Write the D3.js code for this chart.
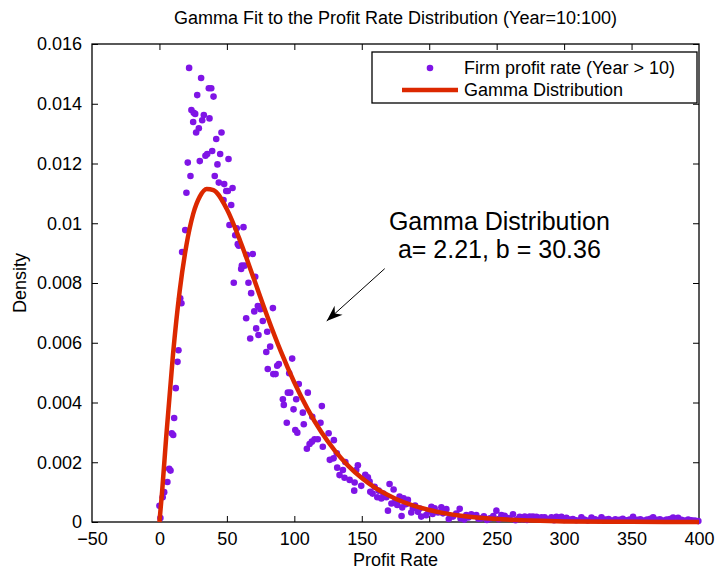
<!DOCTYPE html>
<html>
<head>
<meta charset="utf-8">
<script src="https://cdn.jsdelivr.net/npm/d3@7/dist/d3.min.js"></script>
<style>
  body { margin: 0; background: #fff; }
  svg { display: block; font-family: "Liberation Sans", Arial, sans-serif; }
</style>
</head>
<body>
<svg id="chart" width="716" height="569"></svg>
<script>
// firm profit rate histogram (density)
var profitRate = [
  0.0, 0.7, 2.4, 3.5, 5.9, 7.2, 8.2, 9.1, 10.2, 10.9, 12.1, 13.4, 14.1, 15.4, 16.3, 16.8,
  19.1, 20.0, 21.0, 22.0, 23.0, 23.7, 25.0, 25.4, 26.5, 27.2, 28.0, 29.2, 29.9, 30.9, 31.7,
  32.9, 34.1, 35.4, 36.6, 37.1, 38.4, 39.1, 40.1, 41.0, 42.1, 43.0, 44.0, 45.0, 46.0, 47.5,
  48.0, 49.5, 50.7, 51.2, 51.9, 53.2, 54.2, 55.1, 56.2, 57.3, 58.1, 58.8, 60.6, 61.1, 62.3,
  63.1, 64.3, 64.8, 66.0, 67.3, 68.0, 69.2, 70.3, 71.0, 71.7, 72.9, 73.4, 73.9, 74.9, 76.6,
  79.2, 79.9, 80.3, 82.1, 84.1, 84.4, 86.1, 87.3, 88.5, 91.5, 92.2, 94.4, 95.2, 96.2, 97.0,
  98.4, 99.4, 100.7, 101.4, 102.2, 103.3, 106.3, 107.0, 109.3, 110.0, 111.3, 113.0, 113.3,
  115.0, 117.4, 119.4, 120.4, 121.1, 125.4, 126.3, 129.1, 129.3, 131.5, 131.8, 133.5, 136.0,
  137.2, 137.8, 141.0, 144.4, 144.7, 145.9, 147.1, 149.6, 152.6, 154.5, 155.8, 156.3, 158.0,
  159.5, 161.5, 162.5, 164.5, 166.0, 168.2, 169.4, 170.6, 172.0, 173.6, 175.0, 176.3, 178.0,
  179.3, 179.5, 180.0, 181.0, 183.0, 184.2, 186.7, 187.9, 189.5, 191.6, 193.0, 194.1, 197.8,
  199.5, 201.6, 202.5, 204.0, 206.5, 209.0, 210.2, 212.7, 214.5, 217.6, 220.0, 222.6, 223.2,
  226.0, 227.5, 229.0, 231.2, 234.9, 236.5, 238.6, 240.5, 242.8, 245.0, 247.5, 249.8, 251.5,
  253.5, 255.9, 257.5, 259.6, 262.1, 264.0, 265.8, 267.1, 269.0, 270.8, 272.5, 274.5, 276.9,
  279.5, 281.0, 283.2, 285.6, 288.0, 290.6, 292.5, 294.3, 296.0, 298.0, 300.0, 301.7, 304.0,
  306.5, 309.0, 312.8, 315.0, 317.5, 320.3, 323.0, 325.5, 327.7, 330.5, 333.0, 335.5, 338.0,
  341.0, 343.5, 346.0, 348.5, 351.1, 354.0, 356.5, 359.0, 361.5, 364.0, 366.0, 368.5, 371.0,
  373.5, 376.0, 378.5, 380.8, 384.5, 387.0, 389.5, 392.0, 394.5, 397.0, 399.5
];
var density = [
  0.00054, 0.00013, 0.00083, 0.00100, 0.00134, 0.00178, 0.00172, 0.00297, 0.00291, 0.00348,
  0.00448, 0.00536, 0.00575, 0.00749, 0.00732, 0.00904, 0.00977, 0.01102, 0.01203, 0.01520,
  0.01158, 0.01379, 0.01339, 0.01370, 0.01366, 0.01304, 0.01429, 0.01318, 0.01208, 0.01486,
  0.01345, 0.01362, 0.01226, 0.01232, 0.01452, 0.01351, 0.01452, 0.01242, 0.01424, 0.01158,
  0.01282, 0.01197, 0.01136, 0.01232, 0.01304, 0.01078, 0.01131, 0.01108, 0.01108, 0.01215,
  0.00994, 0.01061, 0.01118, 0.00801, 0.00960, 0.00983, 0.00930, 0.00925, 0.00847, 0.00858,
  0.00987, 0.00858, 0.00682, 0.00894, 0.00801, 0.00614, 0.00766, 0.00897, 0.00705, 0.00821,
  0.00648, 0.00723, 0.00626, 0.00721, 0.00712, 0.00673, 0.00569, 0.00637, 0.00512, 0.00587,
  0.00716, 0.00495, 0.00495, 0.00523, 0.00529, 0.00411, 0.00392, 0.00332, 0.00433, 0.00498,
  0.00433, 0.00547, 0.00377, 0.00308, 0.00411, 0.00299, 0.00462, 0.00366, 0.00327, 0.00245,
  0.00433, 0.00261, 0.00269, 0.00352, 0.00277, 0.00277, 0.00332, 0.00388, 0.00252, 0.00297,
  0.00208, 0.00213, 0.00274, 0.00230, 0.00182, 0.00157, 0.00174, 0.00148, 0.00201, 0.00141,
  0.00105, 0.00132, 0.00174, 0.00190, 0.00121, 0.00158, 0.00150, 0.00135, 0.00101, 0.00095,
  0.00118, 0.00083, 0.00105, 0.00079, 0.00095, 0.00083, 0.00038, 0.00127, 0.00062, 0.00109,
  0.00072, 0.00057, 0.00085, 0.00074, 0.00020, 0.00049, 0.00079, 0.00060, 0.00074, 0.00032,
  0.00046, 0.00055, 0.00034, 0.00045, 0.00018, 0.00023, 0.00037, 0.00051, 0.00027, 0.00046,
  0.00032, 0.00049, 0.00029, 0.00043, 0.00010, 0.00018, 0.00028, 0.00044, 0.00012, 0.00008,
  0.00023, 0.00015, 0.00026, 0.00023, 0.00011, 0.00012, 0.00019, 0.00007, 0.00012, 0.00020,
  0.00038, 0.00009, 0.00023, 0.00021, 0.00014, 0.00012, 0.00026, 0.00006, 0.00010, 0.00017,
  0.00009, 0.00018, 0.00007, 0.00018, 0.00018, 0.00017, 0.00008, 0.00016, 0.00016, 0.00009,
  0.00016, 0.00006, 0.00017, 0.00010, 0.00017, 0.00007, 0.00014, 0.00008, 0.00010, 0.00006,
  0.00016, 0.00008, 0.00005, 0.00015, 0.00009, 0.00006, 0.00016, 0.00008, 0.00010, 0.00005,
  0.00009, 0.00007, 0.00011, 0.00006, 0.00008, 0.00017, 0.00007, 0.00009, 0.00005, 0.00008,
  0.00011, 0.00016, 0.00007, 0.00009, 0.00005, 0.00008, 0.00010, 0.00015, 0.00014, 0.00007,
  0.00005, 0.00008, 0.00006, 0.00005, 0.00003
];

// fitted gamma curve (a = 2.21, b = 30.36)
var gammaX = [0, 2, 5, 10, 15, 20, 25, 30, 35, 40, 50, 60, 70, 80, 90, 100, 110, 120, 130,
  140, 150, 160, 175, 200, 225, 250, 275, 300, 350, 400];
var gammaY = [0, 0.00103, 0.00284, 0.00558, 0.00773, 0.00927, 0.01031, 0.0109, 0.01115,
  0.01111, 0.01047, 0.00939, 0.00814, 0.00688, 0.00571, 0.00467, 0.00377, 0.00301, 0.00239,
  0.00188, 0.00147, 0.00114, 0.00078, 0.00040, 0.00020, 0.00010, 0.00005, 0.00002,
  0.000005, 0.000001];

var xTicks = [-50, 0, 50, 100, 150, 200, 250, 300, 350, 400];
var yTicks = [0, 0.002, 0.004, 0.006, 0.008, 0.01, 0.012, 0.014, 0.016];
var yTickLabels = ["0", "0.002", "0.004", "0.006", "0.008", "0.01", "0.012", "0.014", "0.016"];
var legendLabels = ["Firm profit rate (Year > 10)", "Gamma Distribution"];
var noteLines = ["Gamma Distribution", "a= 2.21, b = 30.36"];

var margin = {top: 44, right: 17, bottom: 47, left: 92};
var width = 716 - margin.left - margin.right;
var height = 569 - margin.top - margin.bottom;

var svg = d3.select("#chart");
var g = svg.append("g").attr("transform", "translate(" + margin.left + "," + margin.top + ")");

var x = d3.scaleLinear().domain([-50, 400]).range([0, width]);
var y = d3.scaleLinear().domain([0, 0.016]).range([height, 0]);

// title
svg.append("text")
    .attr("x", margin.left + width / 2)
    .attr("y", 24)
    .attr("text-anchor", "middle")
    .attr("font-size", 18)
    .text("Gamma Fit to the Profit Rate Distribution (Year=10:100)");

// axes, matlab style: ticks pointing inward on all sides
var tickLen = 6;
g.append("g")
    .attr("transform", "translate(0," + height + ")")
    .call(d3.axisBottom(x).tickValues(xTicks).tickSize(-tickLen).tickPadding(10).tickFormat(d3.format("d")));
g.append("g")
    .call(d3.axisTop(x).tickValues(xTicks).tickSize(-tickLen).tickFormat(""));
g.append("g")
    .call(d3.axisLeft(y).tickValues(yTicks).tickSize(-tickLen).tickPadding(10)
        .tickFormat(function (d, i) { return yTickLabels[i]; }));
g.append("g")
    .attr("transform", "translate(" + width + ",0)")
    .call(d3.axisRight(y).tickValues(yTicks).tickSize(-tickLen).tickFormat(""));

g.selectAll(".domain").remove();
g.selectAll(".tick line").attr("stroke", "#000").attr("stroke-width", 1);
g.selectAll(".tick text").attr("font-size", 18).attr("fill", "#000")
    .attr("font-family", "'Liberation Sans', Arial, sans-serif");
g.selectAll(".tick").filter(function (d) { return d === -50 || d === 400; }).select("line").remove();
g.selectAll(".tick").filter(function (d) { return d === 0 || d === 0.016; })
    .select("line").attr("stroke", function (d) { return this.parentNode.parentNode.getAttribute("transform") ? "#000" : "#000"; });

g.append("rect")
    .attr("width", width).attr("height", height)
    .attr("fill", "none").attr("stroke", "#000").attr("stroke-width", 1.3);

// scatter
var dots = d3.range(profitRate.length);
g.append("g").selectAll("circle")
    .data(dots)
    .enter()
    .append("circle")
    .attr("cx", function (i) { return x(profitRate[i]); })
    .attr("cy", function (i) { return y(density[i]); })
    .attr("r", 3.3)
    .attr("fill", "#7f14e6");

// gamma curve
var line = d3.line()
    .x(function (d, i) { return x(gammaX[i]); })
    .y(function (d) { return y(d); })
    .curve(d3.curveMonotoneX);
g.append("path")
    .attr("d", line(gammaY))
    .attr("fill", "none")
    .attr("stroke", "#dc2800")
    .attr("stroke-width", 4.5)
    .attr("stroke-linejoin", "round");

// annotation
var note = g.append("text")
    .attr("text-anchor", "middle")
    .attr("font-size", 25)
    .attr("x", x(252))
    .attr("y", y(0.00978));
note.selectAll("tspan")
    .data(noteLines)
    .enter()
    .append("tspan")
    .attr("x", x(252))
    .attr("dy", function (d, i) { return i === 0 ? 0 : 28; })
    .text(function (d) { return d; });

var ax0 = x(167), ay0 = y(0.00848), ax1 = x(124), ay1 = y(0.00673);
g.append("line")
    .attr("x1", ax0).attr("y1", ay0).attr("x2", ax1).attr("y2", ay1)
    .attr("stroke", "#000").attr("stroke-width", 1);
var ang = Math.atan2(ay1 - ay0, ax1 - ax0);
g.append("path")
    .attr("transform", "translate(" + ax1 + "," + ay1 + ") rotate(" + (ang * 180 / Math.PI) + ")")
    .attr("d", "M0,0 L-16,-6 L-11,0 L-16,6 Z")
    .attr("fill", "#000");

// axis labels
svg.append("text")
    .attr("x", margin.left + x(175) + 0)
    .attr("y", 566)
    .attr("text-anchor", "middle")
    .attr("font-size", 18)
    .text("Profit Rate");
svg.append("text")
    .attr("transform", "translate(26," + (margin.top + height / 2) + ") rotate(-90)")
    .attr("text-anchor", "middle")
    .attr("font-size", 18)
    .text("Density");

// legend
var leg = svg.append("g").attr("transform", "translate(372,52)");
leg.append("rect")
    .attr("width", 325).attr("height", 51)
    .attr("fill", "#fff").attr("stroke", "#000").attr("stroke-width", 1.3);
leg.append("circle").attr("cx", 58).attr("cy", 16).attr("r", 3.3).attr("fill", "#7f14e6");
leg.append("line").attr("x1", 30).attr("x2", 86).attr("y1", 38).attr("y2", 38)
    .attr("stroke", "#dc2800").attr("stroke-width", 4.5);
leg.selectAll("text.lbl")
    .data(legendLabels)
    .enter()
    .append("text")
    .attr("class", "lbl")
    .attr("x", 92)
    .attr("y", function (d, i) { return 22 + i * 22; })
    .attr("font-size", 18)
    .text(function (d) { return d; });
</script>
</body>
</html>
